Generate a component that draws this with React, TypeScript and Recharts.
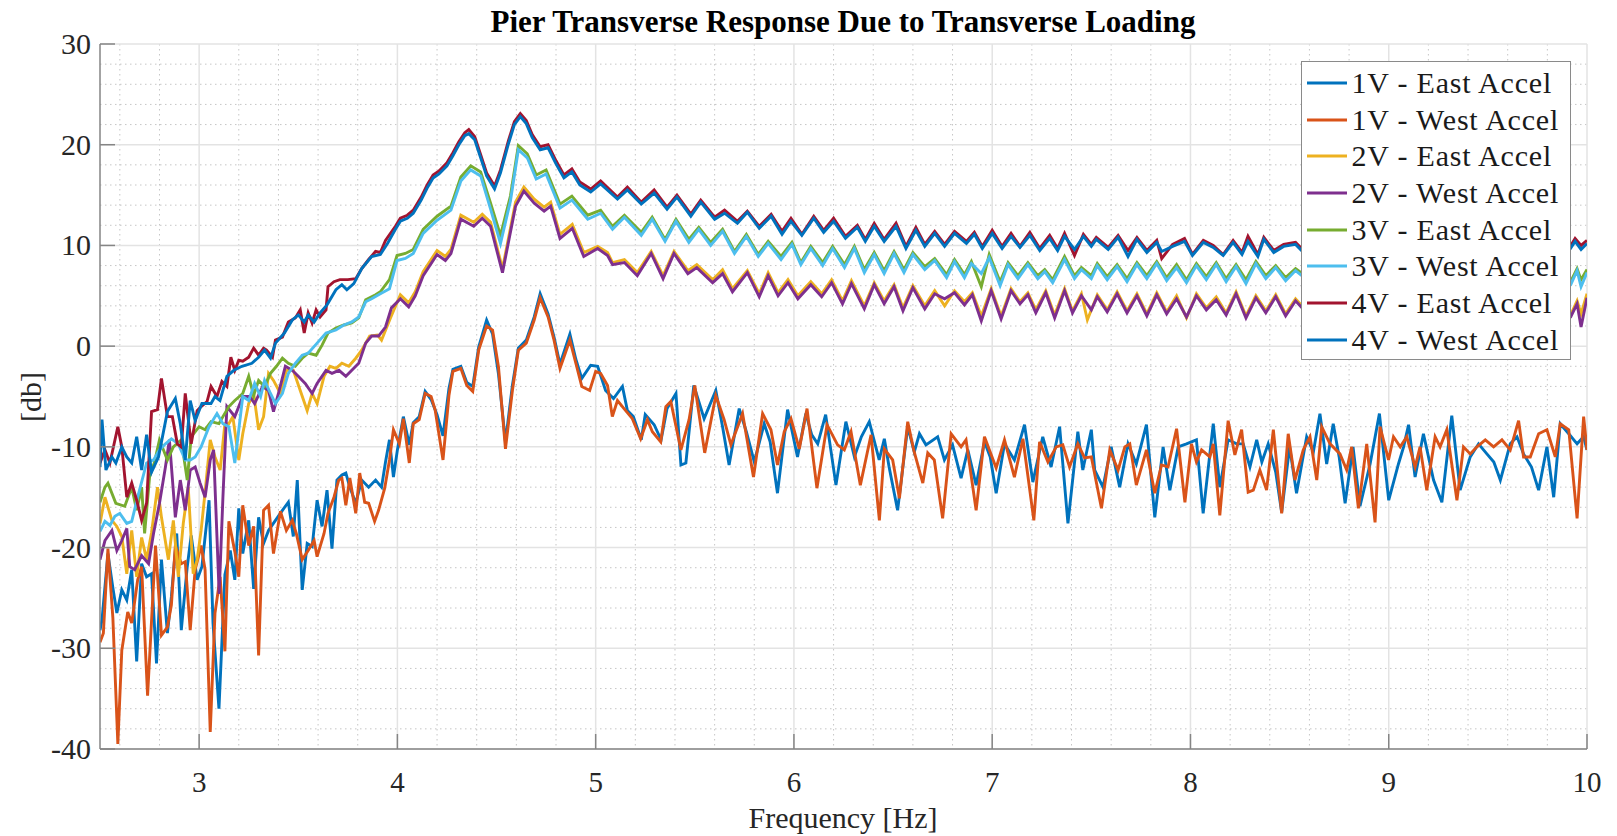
import React from 'react';
import { LineChart, Line, XAxis, YAxis, CartesianGrid, Legend } from 'recharts';

// [frequency Hz, level db] pairs
const east1V = [
  [2.5,-28.2],[2.51,-27.2],[2.54,-20.6],[2.565,-24.0],[2.585,-26.5],[2.61,-24.2],[2.635,-25.2],[2.66,-22.2],[2.685,-31.3],[2.71,-21.6],
  [2.735,-22.9],[2.76,-22.6],[2.785,-31.5],[2.81,-21.2],[2.84,-28.5],[2.86,-24.9],[2.887,-18.6],[2.91,-28.2],[2.94,-21.9],[2.96,-18.8],
  [2.99,-23.2],[3.014,-21.9],[3.05,-15.3],[3.07,-27.5],[3.1,-36.0],[3.13,-22.7],[3.157,-20.3],[3.18,-23.2],[3.2,-16.1],[3.22,-20.6],
  [3.25,-17.3],[3.275,-24.1],[3.3,-17.0],[3.325,-19.6],[3.35,-18.3],[3.385,-17.3],[3.42,-16.3],[3.45,-15.5],[3.475,-18.9],[3.495,-13.3],
  [3.52,-24.2],[3.545,-19.6],[3.57,-19.9],[3.595,-15.3],[3.62,-17.9],[3.645,-14.3],[3.67,-20.1],[3.695,-13.3],[3.72,-12.8],[3.74,-12.6],
  [3.76,-14.0],[3.79,-15.6],[3.82,-13.3],[3.855,-14.0],[3.89,-13.3],[3.92,-14.0],[3.94,-11.5],[3.96,-9.3],[3.98,-13.0],[4.0,-10.3],
  [4.03,-7.0],[4.06,-9.8],[4.08,-7.6],[4.11,-7.0],[4.14,-4.5],[4.17,-5.3],[4.2,-6.8],[4.23,-8.9],[4.26,-4.2],[4.28,-2.3],
  [4.32,-2.0],[4.35,-3.6],[4.38,-4.0],[4.41,-0.1],[4.45,2.6],[4.48,1.2],[4.51,-2.8],[4.545,-9.5],[4.58,-3.9],[4.61,-0.2],
  [4.65,0.6],[4.69,2.9],[4.72,5.2],[4.76,3.2],[4.79,0.9],[4.82,-1.8],[4.87,1.2],[4.9,-1.3],[4.93,-3.2],[4.975,-1.9],
  [5.01,-2.0],[5.05,-4.4],[5.09,-5.2],[5.135,-4.0],[5.16,-6.4],[5.19,-7.0],[5.23,-9.3],[5.25,-6.8],[5.295,-7.8],[5.33,-9.3],
  [5.36,-6.2],[5.405,-4.7],[5.43,-11.8],[5.455,-11.6],[5.495,-3.9],[5.547,-7.2],[5.606,-4.4],[5.64,-8.0],[5.673,-11.8],[5.724,-6.2],
  [5.76,-8.5],[5.8,-11.5],[5.85,-7.7],[5.88,-9.5],[5.917,-14.6],[5.968,-6.3],[6.018,-11.0],[6.06,-6.7],[6.09,-8.8],[6.12,-9.7],
  [6.16,-6.8],[6.212,-13.8],[6.262,-7.5],[6.305,-11.0],[6.34,-9.0],[6.38,-7.5],[6.43,-11.3],[6.456,-9.2],[6.48,-12.0],[6.523,-16.3],
  [6.574,-8.0],[6.607,-10.5],[6.633,-8.7],[6.666,-9.8],[6.725,-9.0],[6.759,-11.3],[6.8,-9.8],[6.843,-13.1],[6.877,-10.3],[6.919,-13.8],
  [6.961,-9.5],[6.99,-11.0],[7.02,-14.6],[7.062,-9.7],[7.112,-11.3],[7.163,-7.8],[7.205,-13.5],[7.255,-9.0],[7.297,-12.0],[7.34,-8.0],
  [7.382,-17.6],[7.432,-8.5],[7.457,-12.3],[7.5,-8.3],[7.517,-12.3],[7.559,-14.0],[7.6,-10.0],[7.643,-14.0],[7.685,-9.7],[7.727,-11.7],
  [7.778,-7.8],[7.82,-17.0],[7.862,-10.0],[7.896,-14.3],[7.938,-10.0],[7.98,-9.7],[8.03,-9.3],[8.064,-16.6],[8.115,-7.7],[8.148,-14.0],
  [8.19,-9.3],[8.233,-9.7],[8.266,-9.7],[8.3,-12.0],[8.334,-9.3],[8.36,-11.5],[8.392,-9.7],[8.43,-12.5],[8.46,-16.5],[8.5,-10.0],
  [8.535,-14.6],[8.586,-9.0],[8.62,-10.5],[8.653,-6.7],[8.687,-11.7],[8.72,-7.7],[8.75,-11.0],[8.78,-15.6],[8.82,-10.0],[8.855,-15.9],
  [8.906,-11.7],[8.953,-6.7],[9.0,-15.3],[9.049,-11.7],[9.075,-10.0],[9.1,-7.8],[9.133,-13.0],[9.175,-8.7],[9.226,-13.3],[9.268,-15.5],
  [9.318,-6.9],[9.36,-14.3],[9.411,-11.0],[9.453,-9.7],[9.495,-10.7],[9.53,-11.5],[9.563,-13.3],[9.613,-9.7],[9.647,-9.0],[9.68,-10.7],
  [9.72,-12.0],[9.756,-14.3],[9.798,-10.0],[9.832,-15.0],[9.865,-7.7],[9.908,-8.7],[9.95,-9.7],[9.983,-9.0],[10.0,-10.3],
];

const west1V = [
  [2.5,-29.4],[2.517,-28.5],[2.54,-20.1],[2.565,-27.0],[2.59,-39.5],[2.61,-30.2],[2.64,-26.4],[2.66,-27.5],[2.69,-23.2],[2.71,-21.9],
  [2.74,-34.7],[2.78,-19.8],[2.81,-28.7],[2.84,-27.9],[2.86,-25.7],[2.88,-19.8],[2.91,-21.6],[2.93,-21.4],[2.955,-28.2],[2.98,-22.2],
  [3.01,-19.8],[3.03,-22.2],[3.056,-38.3],[3.08,-26.5],[3.106,-22.9],[3.13,-30.3],[3.15,-17.4],[3.18,-20.4],[3.2,-22.9],[3.22,-15.8],
  [3.25,-19.8],[3.275,-17.9],[3.3,-30.7],[3.325,-16.3],[3.35,-15.8],[3.375,-20.6],[3.41,-16.4],[3.44,-18.3],[3.47,-17.3],[3.49,-18.6],
  [3.52,-21.2],[3.55,-20.3],[3.58,-19.3],[3.595,-20.9],[3.63,-18.6],[3.65,-16.6],[3.68,-15.0],[3.704,-13.3],[3.72,-13.1],[3.74,-15.8],
  [3.76,-13.1],[3.79,-16.6],[3.81,-12.6],[3.835,-15.5],[3.855,-15.6],[3.885,-17.4],[3.905,-16.3],[3.936,-14.1],[3.96,-11.3],[3.98,-8.3],
  [4.01,-9.7],[4.03,-7.2],[4.06,-11.6],[4.08,-7.7],[4.11,-7.3],[4.14,-4.7],[4.17,-5.0],[4.19,-6.3],[4.23,-11.3],[4.26,-4.9],
  [4.28,-2.5],[4.32,-2.2],[4.35,-3.9],[4.38,-4.5],[4.41,-0.4],[4.45,2.0],[4.48,1.6],[4.51,-2.1],[4.545,-10.2],[4.58,-4.4],
  [4.61,-0.4],[4.65,0.3],[4.69,2.6],[4.72,4.8],[4.76,2.9],[4.79,0.6],[4.82,-2.2],[4.87,0.6],[4.9,-1.7],[4.93,-4.0],
  [4.97,-4.4],[5.0,-2.5],[5.025,-2.7],[5.06,-3.9],[5.084,-7.0],[5.11,-5.4],[5.143,-6.2],[5.185,-7.2],[5.227,-9.2],[5.261,-7.3],
  [5.286,-8.5],[5.328,-9.5],[5.354,-6.0],[5.379,-5.5],[5.43,-10.3],[5.471,-7.3],[5.5,-3.9],[5.55,-10.6],[5.606,-4.9],[5.648,-7.3],
  [5.682,-9.8],[5.741,-6.7],[5.796,-13.0],[5.842,-6.7],[5.884,-8.3],[5.917,-11.8],[5.951,-8.5],[5.985,-7.2],[6.027,-10.2],[6.066,-6.2],
  [6.116,-14.1],[6.167,-7.8],[6.22,-9.8],[6.254,-10.3],[6.288,-8.5],[6.335,-13.8],[6.389,-8.8],[6.431,-17.3],[6.456,-10.2],[6.498,-11.3],
  [6.532,-15.1],[6.574,-7.5],[6.604,-10.3],[6.65,-13.6],[6.675,-10.6],[6.708,-11.3],[6.75,-17.1],[6.793,-8.7],[6.843,-10.0],[6.868,-9.3],
  [6.919,-16.3],[6.961,-9.0],[7.02,-12.1],[7.062,-9.3],[7.112,-13.0],[7.155,-9.2],[7.21,-17.3],[7.239,-9.5],[7.281,-11.5],[7.323,-10.0],
  [7.356,-9.8],[7.39,-12.0],[7.432,-9.7],[7.466,-11.1],[7.5,-11.0],[7.551,-16.1],[7.593,-10.3],[7.635,-12.3],[7.669,-10.0],[7.694,-9.7],
  [7.727,-13.8],[7.778,-10.3],[7.82,-14.6],[7.854,-11.8],[7.887,-12.0],[7.93,-8.2],[7.972,-15.5],[8.005,-9.7],[8.03,-11.5],[8.056,-10.3],
  [8.098,-11.0],[8.115,-9.7],[8.148,-16.8],[8.19,-7.4],[8.224,-10.8],[8.258,-8.3],[8.291,-14.5],[8.317,-14.3],[8.35,-12.3],[8.384,-14.3],
  [8.418,-8.3],[8.46,-16.6],[8.493,-8.7],[8.527,-13.3],[8.569,-10.3],[8.603,-9.0],[8.637,-13.3],[8.662,-8.0],[8.704,-9.7],[8.754,-10.7],
  [8.788,-12.3],[8.813,-10.0],[8.847,-16.1],[8.889,-9.7],[8.931,-17.5],[8.956,-8.0],[8.999,-11.3],[9.024,-9.0],[9.058,-10.0],[9.091,-9.0],
  [9.133,-12.0],[9.158,-10.0],[9.192,-14.3],[9.234,-9.0],[9.259,-10.0],[9.293,-8.3],[9.344,-15.3],[9.377,-10.0],[9.411,-10.7],[9.445,-10.0],
  [9.487,-9.3],[9.529,-10.0],[9.571,-9.3],[9.613,-10.3],[9.655,-7.4],[9.68,-11.0],[9.714,-11.0],[9.756,-8.7],[9.798,-8.3],[9.84,-11.0],
  [9.865,-7.7],[9.908,-8.3],[9.95,-17.1],[9.983,-7.0],[10.0,-10.3],
];

const east2V = [
  [2.5,-17.6],[2.525,-15.0],[2.56,-17.3],[2.585,-17.9],[2.61,-18.9],[2.635,-22.6],[2.66,-18.3],[2.685,-22.9],[2.71,-19.0],[2.735,-21.2],
  [2.76,-18.5],[2.79,-14.0],[2.81,-17.0],[2.845,-21.2],[2.87,-17.3],[2.895,-22.9],[2.92,-17.6],[2.945,-14.0],[2.97,-22.6],[2.99,-21.2],
  [3.01,-18.3],[3.03,-14.5],[3.056,-9.3],[3.08,-11.0],[3.106,-12.3],[3.13,-7.7],[3.15,-7.7],[3.17,-7.0],[3.2,-11.3],[3.22,-8.7],
  [3.25,-5.7],[3.275,-4.7],[3.3,-8.3],[3.325,-7.0],[3.35,-2.7],[3.375,-3.4],[3.41,-4.7],[3.44,-2.4],[3.475,-2.4],[3.51,-4.4],
  [3.545,-6.4],[3.57,-4.7],[3.595,-5.7],[3.63,-3.0],[3.66,-2.0],[3.69,-2.2],[3.72,-1.7],[3.755,-2.0],[3.79,-1.2],[3.82,-0.4],
  [3.86,1.0],[3.9,1.1],[3.92,0.6],[3.965,2.8],[4.015,5.1],[4.057,4.3],[4.09,5.4],[4.13,7.4],[4.2,9.5],[4.242,8.9],
  [4.27,9.6],[4.32,13.0],[4.385,12.3],[4.428,13.1],[4.47,12.3],[4.53,7.7],[4.596,14.3],[4.638,15.8],[4.69,14.6],[4.74,13.8],
  [4.773,14.3],[4.82,11.1],[4.882,12.1],[4.94,9.3],[5.01,9.9],[5.06,9.3],[5.085,8.3],[5.145,8.6],[5.21,7.3],[5.28,9.4],
  [5.34,7.0],[5.395,9.4],[5.465,7.5],[5.51,8.1],[5.59,6.6],[5.64,7.6],[5.69,5.7],[5.765,7.5],[5.825,5.2],[5.87,7.3],
  [5.92,5.3],[5.97,6.6],[6.02,5.0],[6.085,6.4],[6.14,5.2],[6.19,6.6],[6.245,4.5],[6.29,6.5],[6.355,4.0],[6.405,6.3],
  [6.455,4.5],[6.505,6.1],[6.55,3.8],[6.6,6.0],[6.66,4.0],[6.71,5.5],[6.76,4.0],[6.81,5.5],[6.86,4.4],[6.9,5.3],
  [6.945,3.0],[6.995,5.7],[7.045,3.0],[7.095,5.7],[7.14,4.4],[7.18,5.3],[7.22,3.6],[7.27,5.5],[7.315,3.1],[7.365,5.7],
  [7.405,3.5],[7.45,5.2],[7.48,2.6],[7.53,5.1],[7.58,3.6],[7.63,5.4],[7.68,3.5],[7.73,5.2],[7.78,3.2],[7.83,5.3],
  [7.88,3.4],[7.93,5.0],[7.98,2.8],[8.03,5.2],[8.08,3.8],[8.13,4.9],[8.18,3.3],[8.23,5.4],[8.28,3.0],[8.33,5.0],
  [8.38,3.5],[8.43,5.1],[8.48,3.2],[8.53,4.7],[8.6,3.2],[8.66,4.8],[8.72,3.1],[8.78,4.9],[8.84,3.3],[8.9,4.7],
  [8.96,3.0],[9.02,4.8],[9.08,3.2],[9.14,4.6],[9.2,3.1],[9.26,4.7],[9.32,3.0],[9.38,4.5],[9.44,2.9],[9.5,4.6],
  [9.56,3.1],[9.62,4.4],[9.68,2.8],[9.74,4.5],[9.8,3.0],[9.86,4.4],[9.92,3.2],[9.95,4.5],[9.97,3.2],[10.0,5.2],
];

const west2V = [
  [2.5,-21.2],[2.525,-19.3],[2.56,-18.3],[2.585,-20.3],[2.61,-19.3],[2.635,-18.1],[2.65,-21.9],[2.675,-22.2],[2.71,-20.8],[2.745,-21.6],
  [2.77,-18.6],[2.8,-15.6],[2.83,-12.0],[2.85,-9.3],[2.88,-17.0],[2.905,-13.3],[2.93,-16.3],[2.955,-12.3],[2.98,-12.0],[3.005,-13.6],
  [3.03,-15.0],[3.056,-11.3],[3.073,-10.3],[3.101,-24.6],[3.12,-15.0],[3.14,-6.0],[3.18,-7.0],[3.22,-5.0],[3.255,-5.0],[3.28,-5.7],
  [3.32,-4.0],[3.35,-4.4],[3.375,-6.5],[3.4,-4.7],[3.435,-2.0],[3.47,-2.4],[3.5,-3.0],[3.535,-3.7],[3.57,-4.7],[3.595,-3.7],
  [3.64,-2.4],[3.67,-2.7],[3.705,-2.4],[3.74,-3.0],[3.77,-2.4],[3.805,-1.7],[3.84,0.3],[3.87,1.0],[3.905,1.0],[3.94,1.9],
  [3.97,3.8],[4.015,4.7],[4.057,3.9],[4.09,5.0],[4.13,7.0],[4.2,9.1],[4.242,8.5],[4.27,9.2],[4.32,12.6],[4.385,11.9],
  [4.428,12.7],[4.47,11.9],[4.53,7.3],[4.596,13.9],[4.638,15.4],[4.69,14.2],[4.74,13.4],[4.773,13.9],[4.82,10.7],[4.882,11.7],
  [4.94,8.9],[5.01,9.7],[5.06,9.0],[5.085,8.1],[5.145,8.3],[5.21,7.0],[5.28,9.2],[5.34,6.7],[5.395,9.2],[5.465,7.2],
  [5.51,7.8],[5.59,6.3],[5.64,7.2],[5.69,5.4],[5.765,7.3],[5.825,4.9],[5.87,7.0],[5.92,5.0],[5.97,6.3],[6.02,4.7],
  [6.085,6.1],[6.14,4.9],[6.19,6.3],[6.245,4.2],[6.29,6.2],[6.355,3.7],[6.405,6.1],[6.455,4.2],[6.505,5.9],[6.55,3.5],
  [6.6,5.8],[6.66,3.7],[6.71,5.2],[6.76,4.7],[6.81,5.3],[6.86,4.1],[6.9,5.1],[6.945,2.5],[6.995,5.5],[7.045,2.7],
  [7.095,5.5],[7.14,4.2],[7.18,5.1],[7.22,3.3],[7.27,5.3],[7.315,2.8],[7.365,5.5],[7.405,3.3],[7.45,5.0],[7.5,3.6],
  [7.53,4.9],[7.58,3.4],[7.63,5.2],[7.68,3.3],[7.73,5.0],[7.78,3.0],[7.83,5.1],[7.88,3.2],[7.93,4.7],[7.98,2.9],
  [8.03,5.0],[8.08,3.6],[8.13,4.6],[8.18,3.1],[8.23,5.2],[8.28,2.8],[8.33,4.8],[8.38,3.3],[8.43,4.9],[8.48,3.0],
  [8.53,4.5],[8.6,3.0],[8.66,4.6],[8.72,2.9],[8.78,4.7],[8.84,3.1],[8.9,4.5],[8.96,2.8],[9.02,4.6],[9.08,3.0],
  [9.14,4.4],[9.2,2.9],[9.26,4.5],[9.32,2.8],[9.38,4.3],[9.44,2.7],[9.5,4.4],[9.56,2.9],[9.62,4.2],[9.68,2.6],
  [9.74,4.3],[9.8,2.8],[9.86,4.2],[9.92,3.0],[9.95,4.2],[9.97,1.9],[10.0,4.8],
];

const east3V = [
  [2.5,-15.5],[2.525,-14.0],[2.54,-13.6],[2.58,-15.6],[2.625,-15.9],[2.66,-14.0],[2.685,-16.3],[2.71,-14.0],[2.725,-18.6],[2.75,-13.0],
  [2.775,-11.5],[2.8,-9.3],[2.84,-11.3],[2.87,-10.0],[2.91,-9.3],[2.94,-13.3],[2.96,-9.0],[3.0,-8.0],[3.03,-8.3],[3.06,-7.5],
  [3.1,-7.7],[3.12,-7.0],[3.15,-6.0],[3.18,-5.4],[3.22,-4.7],[3.25,-3.0],[3.275,-4.9],[3.3,-3.4],[3.33,-4.0],[3.36,-2.7],
  [3.39,-2.0],[3.42,-1.2],[3.45,-1.7],[3.485,-2.0],[3.52,-1.2],[3.55,-0.7],[3.59,-0.9],[3.62,0.1],[3.65,1.3],[3.69,1.8],
  [3.73,2.1],[3.77,2.3],[3.805,2.8],[3.84,4.6],[3.89,5.1],[3.914,5.4],[3.96,6.6],[3.998,9.0],[4.04,9.2],[4.08,9.6],
  [4.13,11.6],[4.2,12.9],[4.27,13.9],[4.32,16.8],[4.37,17.9],[4.42,17.3],[4.47,14.2],[4.52,11.0],[4.57,14.9],[4.61,19.9],
  [4.655,19.1],[4.7,17.0],[4.75,17.5],[4.82,14.1],[4.88,14.9],[4.96,13.0],[5.025,13.5],[5.085,11.9],[5.145,13.0],[5.23,11.3],
  [5.285,12.8],[5.35,10.6],[5.405,12.6],[5.47,10.6],[5.52,11.8],[5.58,10.3],[5.64,11.6],[5.7,9.4],[5.76,11.1],[5.82,9.1],
  [5.87,10.4],[5.935,8.9],[5.99,10.3],[6.035,8.3],[6.085,9.9],[6.145,8.3],[6.195,9.9],[6.255,8.1],[6.305,9.9],[6.355,7.6],
  [6.405,9.3],[6.455,7.5],[6.505,9.4],[6.555,7.6],[6.6,9.3],[6.66,7.9],[6.71,8.7],[6.77,7.1],[6.81,8.6],[6.86,7.1],
  [6.895,8.4],[6.945,5.9],[6.985,9.1],[7.04,6.4],[7.08,8.3],[7.13,7.0],[7.18,8.3],[7.23,7.0],[7.265,7.6],[7.305,6.6],
  [7.365,8.9],[7.415,7.0],[7.45,7.8],[7.5,7.0],[7.53,8.2],[7.58,6.9],[7.63,8.1],[7.68,6.7],[7.73,8.3],[7.78,7.0],
  [7.83,8.4],[7.88,6.8],[7.93,8.1],[7.98,6.6],[8.03,8.2],[8.08,6.9],[8.13,8.3],[8.18,6.7],[8.23,8.1],[8.28,6.6],
  [8.33,8.4],[8.38,7.0],[8.43,8.0],[8.48,6.8],[8.53,7.7],[8.6,6.7],[8.66,8.0],[8.72,6.6],[8.78,7.9],[8.84,6.5],
  [8.9,7.8],[8.96,6.4],[9.02,7.9],[9.08,6.5],[9.14,7.7],[9.2,6.3],[9.26,7.8],[9.32,6.4],[9.38,7.6],[9.44,6.2],
  [9.5,7.7],[9.56,6.3],[9.62,7.5],[9.68,6.1],[9.74,7.6],[9.8,6.2],[9.86,7.5],[9.92,6.5],[9.95,7.7],[9.97,6.6],[10.0,7.6],
];

const west3V = [
  [2.5,-18.4],[2.525,-17.4],[2.55,-17.8],[2.575,-16.9],[2.6,-16.6],[2.635,-17.6],[2.66,-17.4],[2.69,-15.0],[2.735,-11.6],[2.77,-11.3],
  [2.8,-10.3],[2.83,-9.7],[2.86,-9.2],[2.895,-9.7],[2.93,-11.3],[2.955,-11.3],[2.98,-11.0],[3.01,-10.0],[3.05,-8.0],[3.09,-6.7],
  [3.12,-7.7],[3.15,-8.0],[3.18,-11.6],[3.2,-8.3],[3.22,-5.0],[3.25,-5.4],[3.28,-3.7],[3.31,-5.0],[3.33,-3.4],[3.36,-4.7],
  [3.385,-5.7],[3.42,-4.7],[3.45,-2.7],[3.485,-1.7],[3.52,-0.9],[3.55,-0.7],[3.595,0.3],[3.64,1.3],[3.69,1.6],[3.73,2.1],
  [3.77,2.4],[3.805,2.9],[3.84,4.4],[3.87,4.7],[3.914,5.2],[3.96,5.7],[3.998,8.5],[4.04,8.7],[4.08,9.2],[4.13,11.2],
  [4.2,12.5],[4.27,13.5],[4.32,16.4],[4.37,17.5],[4.42,16.9],[4.47,13.6],[4.52,10.2],[4.57,14.4],[4.61,19.5],[4.655,18.7],
  [4.7,16.6],[4.75,17.1],[4.82,13.7],[4.88,14.5],[4.96,12.6],[5.025,13.2],[5.085,11.6],[5.145,12.8],[5.23,11.0],[5.285,12.6],
  [5.35,10.4],[5.405,12.4],[5.47,10.3],[5.52,11.6],[5.58,10.0],[5.64,11.4],[5.7,9.2],[5.76,10.9],[5.82,8.9],[5.87,10.2],
  [5.935,8.6],[5.99,10.1],[6.035,8.1],[6.085,9.7],[6.145,8.0],[6.195,9.7],[6.255,7.8],[6.305,9.7],[6.355,7.3],[6.405,9.1],
  [6.455,7.2],[6.505,9.2],[6.555,7.3],[6.6,9.1],[6.66,7.6],[6.71,8.5],[6.77,6.8],[6.81,8.4],[6.86,6.8],[6.895,8.2],
  [6.945,7.2],[6.985,8.8],[7.04,6.0],[7.08,8.1],[7.13,6.7],[7.18,8.1],[7.23,6.7],[7.265,7.4],[7.305,6.3],[7.365,8.6],
  [7.415,6.7],[7.45,7.6],[7.5,6.7],[7.53,8.0],[7.58,6.6],[7.63,7.9],[7.68,6.4],[7.73,8.1],[7.78,6.7],[7.83,8.2],
  [7.88,6.5],[7.93,7.8],[7.98,6.3],[8.03,8.0],[8.08,6.6],[8.13,8.1],[8.18,6.4],[8.23,7.9],[8.28,6.2],[8.33,8.2],
  [8.38,6.7],[8.43,7.8],[8.48,6.5],[8.53,7.5],[8.6,6.4],[8.66,7.8],[8.72,6.3],[8.78,7.7],[8.84,6.2],[8.9,7.6],
  [8.96,6.1],[9.02,7.7],[9.08,6.2],[9.14,7.5],[9.2,6.0],[9.26,7.6],[9.32,6.1],[9.38,7.4],[9.44,5.9],[9.5,7.5],
  [9.56,6.0],[9.62,7.3],[9.68,5.8],[9.74,7.4],[9.8,5.9],[9.86,7.3],[9.92,6.2],[9.95,7.5],[9.97,5.9],[10.0,7.3],
];

const east4V = [
  [2.5,-11.6],[2.525,-10.3],[2.55,-11.6],[2.59,-8.0],[2.61,-10.0],[2.635,-15.0],[2.66,-13.6],[2.685,-15.3],[2.71,-17.3],[2.735,-15.6],
  [2.76,-6.5],[2.79,-6.3],[2.81,-3.2],[2.84,-7.0],[2.865,-7.0],[2.89,-9.7],[2.91,-10.0],[2.93,-4.7],[2.96,-9.7],[2.99,-6.4],
  [3.01,-6.0],[3.04,-5.5],[3.06,-4.0],[3.09,-5.0],[3.115,-3.5],[3.14,-4.0],[3.16,-1.1],[3.18,-2.4],[3.2,-1.4],[3.22,-1.5],
  [3.25,-1.1],[3.275,-0.2],[3.3,-0.9],[3.325,-0.2],[3.34,-0.4],[3.37,-1.1],[3.385,0.6],[3.42,0.9],[3.45,2.4],[3.485,2.8],
  [3.51,3.6],[3.53,1.3],[3.55,3.3],[3.57,2.3],[3.59,3.6],[3.61,2.9],[3.64,3.6],[3.65,5.9],[3.68,6.4],[3.71,6.6],
  [3.75,6.6],[3.79,6.7],[3.82,7.7],[3.855,8.6],[3.89,9.4],[3.914,9.3],[3.94,10.5],[3.99,11.9],[4.015,12.7],[4.05,13.0],
  [4.08,13.5],[4.12,14.8],[4.15,16.0],[4.18,17.0],[4.21,17.4],[4.25,18.2],[4.28,19.2],[4.31,20.3],[4.34,21.2],[4.36,21.5],
  [4.39,20.8],[4.42,19.0],[4.45,17.2],[4.49,15.9],[4.52,17.5],[4.56,20.4],[4.59,22.3],[4.62,23.1],[4.65,22.4],[4.68,21.0],
  [4.72,19.8],[4.76,20.0],[4.8,18.4],[4.84,17.0],[4.88,17.6],[4.92,16.3],[4.975,15.6],[5.025,16.4],[5.11,14.8],[5.16,15.8],
  [5.23,14.3],[5.295,15.5],[5.36,13.8],[5.41,15.0],[5.48,13.1],[5.53,14.5],[5.6,12.8],[5.65,13.5],[5.715,12.4],[5.765,13.4],
  [5.825,11.9],[5.885,13.1],[5.94,11.4],[5.985,12.7],[6.04,11.1],[6.1,12.9],[6.15,11.5],[6.2,12.7],[6.26,10.9],[6.32,12.0],
  [6.36,10.6],[6.405,12.2],[6.455,10.6],[6.515,12.2],[6.565,9.9],[6.615,11.8],[6.66,10.1],[6.71,11.4],[6.76,10.1],[6.81,11.4],
  [6.87,10.4],[6.91,11.3],[6.95,9.9],[7.0,11.5],[7.05,9.9],[7.095,11.2],[7.14,9.9],[7.19,11.3],[7.24,9.7],[7.29,11.0],
  [7.33,9.7],[7.365,11.2],[7.415,9.0],[7.46,11.1],[7.5,10.1],[7.525,10.8],[7.585,9.8],[7.635,11.0],[7.685,9.5],[7.73,10.8],
  [7.78,9.5],[7.83,10.5],[7.855,8.7],[7.91,10.1],[7.97,10.7],[8.01,9.1],[8.065,10.5],[8.115,10.0],[8.165,9.1],[8.215,10.5],
  [8.26,9.3],[8.29,10.9],[8.34,9.1],[8.37,10.8],[8.42,9.5],[8.47,10.1],[8.53,10.3],[8.58,9.3],[8.64,10.5],[8.7,9.4],
  [8.76,10.4],[8.82,9.2],[8.88,10.3],[8.94,9.3],[9.0,10.4],[9.06,9.2],[9.12,10.2],[9.18,9.3],[9.24,10.3],[9.3,9.1],
  [9.36,10.2],[9.42,9.2],[9.48,10.1],[9.54,9.0],[9.6,10.2],[9.66,9.1],[9.72,10.1],[9.78,9.2],[9.84,10.2],[9.9,9.4],
  [9.94,10.7],[9.97,10.0],[10.0,10.5],
];

const west4V = [
  [2.5,-12.0],[2.51,-7.3],[2.53,-12.3],[2.56,-11.0],[2.58,-11.6],[2.61,-10.0],[2.635,-11.0],[2.66,-11.6],[2.685,-9.0],[2.71,-12.3],
  [2.735,-8.8],[2.76,-12.5],[2.795,-11.0],[2.84,-6.5],[2.88,-5.2],[2.905,-7.7],[2.93,-11.3],[2.955,-5.4],[2.98,-7.4],[3.014,-5.7],
  [3.06,-5.7],[3.08,-5.0],[3.105,-5.4],[3.14,-3.0],[3.175,-2.4],[3.216,-2.0],[3.266,-1.7],[3.3,-1.1],[3.33,-0.4],[3.36,-1.2],
  [3.385,0.3],[3.43,1.3],[3.47,2.6],[3.5,3.1],[3.53,2.4],[3.55,3.1],[3.58,2.4],[3.61,3.3],[3.645,4.1],[3.69,5.6],
  [3.72,6.1],[3.745,5.6],[3.78,6.2],[3.82,7.7],[3.87,8.9],[3.914,9.1],[3.95,10.2],[3.99,11.6],[4.015,12.4],[4.05,12.7],
  [4.08,13.2],[4.12,14.5],[4.15,15.7],[4.18,16.7],[4.21,17.1],[4.25,17.9],[4.28,18.9],[4.31,20.0],[4.34,20.9],[4.36,21.1],
  [4.39,20.5],[4.42,18.7],[4.45,16.9],[4.49,15.6],[4.52,17.2],[4.56,20.1],[4.59,22.0],[4.62,22.8],[4.65,22.1],[4.68,20.7],
  [4.72,19.5],[4.76,19.7],[4.8,18.1],[4.84,16.7],[4.88,17.3],[4.92,16.0],[4.975,15.3],[5.025,16.1],[5.11,14.6],[5.16,15.5],
  [5.23,14.1],[5.295,15.2],[5.36,13.6],[5.41,14.8],[5.48,12.9],[5.53,14.3],[5.6,12.6],[5.65,13.2],[5.715,12.2],[5.765,13.3],
  [5.825,11.7],[5.885,12.9],[5.94,11.1],[5.985,12.4],[6.04,11.0],[6.1,12.7],[6.15,11.3],[6.2,12.4],[6.26,10.7],[6.32,11.8],
  [6.36,10.4],[6.405,11.9],[6.455,10.4],[6.515,11.9],[6.565,9.7],[6.615,11.5],[6.66,9.9],[6.71,11.2],[6.76,9.9],[6.81,11.2],
  [6.87,10.2],[6.91,11.1],[6.95,9.7],[7.0,11.2],[7.05,9.7],[7.095,10.9],[7.14,9.8],[7.19,11.0],[7.24,9.5],[7.29,10.7],
  [7.33,9.5],[7.365,10.9],[7.415,9.6],[7.46,10.9],[7.5,9.9],[7.525,10.6],[7.585,9.6],[7.635,10.8],[7.685,8.9],[7.73,10.6],
  [7.78,9.3],[7.83,10.3],[7.855,9.4],[7.91,9.9],[7.97,10.4],[8.01,9.0],[8.065,10.3],[8.115,9.8],[8.165,9.0],[8.215,10.3],
  [8.26,9.1],[8.29,10.4],[8.34,8.9],[8.37,10.6],[8.42,9.3],[8.47,9.9],[8.53,10.1],[8.58,9.1],[8.64,10.3],[8.7,9.2],
  [8.76,10.2],[8.82,9.0],[8.88,10.1],[8.94,9.1],[9.0,10.2],[9.06,9.0],[9.12,10.0],[9.18,9.1],[9.24,10.1],[9.3,8.9],
  [9.36,10.0],[9.42,9.0],[9.48,9.9],[9.54,8.8],[9.6,10.0],[9.66,8.9],[9.72,9.9],[9.78,9.0],[9.84,10.0],[9.9,9.2],
  [9.94,10.4],[9.97,9.6],[10.0,10.2],
];

const seriesNames = [
  '1V - East Accel', '1V - West Accel', '2V - East Accel', '2V - West Accel',
  '3V - East Accel', '3V - West Accel', '4V - East Accel', '4V - West Accel',
];
const seriesColors = ['#0072BD', '#D95319', '#EDB120', '#7E2F8E', '#77AC30', '#4DBEEE', '#A2142F', '#0072BD'];

const freqTicks = [3, 4, 5, 6, 7, 8, 9, 10];
const dbTicks = [-40, -30, -20, -10, 0, 10, 20, 30];
const minorFreq = [2.6, 2.8, 3.2, 3.4, 3.6, 3.8, 4.2, 4.4, 4.6, 4.8, 5.2, 5.4, 5.6, 5.8, 6.2, 6.4, 6.6, 6.8,
  7.2, 7.4, 7.6, 7.8, 8.2, 8.4, 8.6, 8.8, 9.2, 9.4, 9.6, 9.8];
const minorDb = [-38, -36, -34, -32, -28, -26, -24, -22, -18, -16, -14, -12, -8, -6, -4, -2,
  2, 4, 6, 8, 12, 14, 16, 18, 22, 24, 26, 28];

const series = [east1V, west1V, east2V, west2V, east3V, west3V, east4V, west4V].map((pts, i) => ({
  name: seriesNames[i],
  color: seriesColors[i],
  data: pts.map(([f, v]) => ({ f, v })),
}));

const FONT = '"Liberation Serif", "Times New Roman", Times, serif';
const AXIS_COLOR = '#858585';
const INK = '#262626';
const TICK_LEN = 15;

// matlab style ticks point into the plot
function BottomTick(props: any) {
  const { x, y, payload } = props;
  return (
    <g>
      <line x1={x} y1={y} x2={x} y2={y - TICK_LEN} stroke={AXIS_COLOR} strokeWidth={1.5} />
      <text x={x} y={y + 43} textAnchor="middle" fontFamily={FONT} fontSize={29} fill={INK}>{payload.value}</text>
    </g>
  );
}

function TopTick(props: any) {
  const { x, y } = props;
  return <line x1={x} y1={y} x2={x} y2={y + TICK_LEN} stroke={AXIS_COLOR} strokeWidth={1.5} />;
}

function LeftTick(props: any) {
  const { x, y, payload } = props;
  return (
    <g>
      <line x1={x} y1={y} x2={x + TICK_LEN} y2={y} stroke={AXIS_COLOR} strokeWidth={1.5} />
      <text x={x - 9} y={y + 10} textAnchor="end" fontFamily={FONT} fontSize={30} fill={INK}>{payload.value}</text>
    </g>
  );
}

function RightTick(props: any) {
  const { x, y } = props;
  return <line x1={x} y1={y} x2={x - TICK_LEN} y2={y} stroke={AXIS_COLOR} strokeWidth={1.5} />;
}

function LegendBox(props: any) {
  const items = props.payload || [];
  return (
    <div style={{
      width: 270, height: 299, boxSizing: 'border-box', border: '1.5px solid #8a8a8a',
      background: '#fff', paddingTop: 2.5,
    }}>
      {items.map((it: any) => (
        <div key={it.value} style={{ display: 'flex', alignItems: 'center', height: 36.7 }}>
          <svg width={40} height={6} style={{ marginLeft: 4.5, marginRight: 5, flex: 'none' }}>
            <line x1={0} y1={3} x2={40} y2={3} stroke={it.color} strokeWidth={3} />
          </svg>
          <span style={{
            fontFamily: FONT, fontSize: 30, lineHeight: 1, color: '#1a1a1a', whiteSpace: 'nowrap', letterSpacing: 0.8,
          }}>
            {it.value}
          </span>
        </div>
      ))}
    </div>
  );
}

export default function App() {
  const axisLine = { stroke: AXIS_COLOR, strokeWidth: 1.5 };
  return (
    <div style={{ position: 'absolute', left: 0, top: 0, width: 1617, height: 836, background: '#fff' }}>
      <LineChart width={1617} height={836} margin={{ top: 44, right: 30, bottom: 0, left: 0 }}>
        <CartesianGrid verticalValues={minorFreq} horizontalValues={minorDb} stroke="#c6c6c6" strokeDasharray="1.5 3.5" />
        <CartesianGrid verticalValues={freqTicks} horizontalValues={dbTicks} stroke="#e3e3e3" strokeWidth={1.5} />
        <XAxis dataKey="f" type="number" domain={[2.5, 10]} ticks={freqTicks} interval={0} allowDataOverflow
          height={87} tickSize={0} tickMargin={0} tickLine={false} axisLine={axisLine} tick={<BottomTick />} />
        <XAxis xAxisId="top" orientation="top" dataKey="f" type="number" domain={[2.5, 10]} ticks={freqTicks}
          interval={0} allowDataOverflow height={0} tickSize={0} tickMargin={0} tickLine={false} axisLine={axisLine}
          tick={<TopTick />} />
        <YAxis type="number" domain={[-40, 30]} ticks={dbTicks} interval={0} allowDataOverflow width={100}
          tickSize={0} tickMargin={0} tickLine={false} axisLine={axisLine} tick={<LeftTick />} />
        <YAxis yAxisId="right" orientation="right" type="number" domain={[-40, 30]} ticks={dbTicks} interval={0}
          allowDataOverflow width={0} tickSize={0} tickMargin={0} tickLine={false} axisLine={axisLine}
          tick={<RightTick />} />
        <Legend layout="vertical" align="center" verticalAlign="middle" content={<LegendBox />}
          wrapperStyle={{ left: 1301, top: 61, width: 270, height: 299 }} />
        {series.map((s) => (
          <Line key={s.name} data={s.data} dataKey="v" name={s.name} type="linear" stroke={s.color}
            strokeWidth={2.9} dot={false} activeDot={false} isAnimationActive={false} />
        ))}
        <text x={843} y={32} textAnchor="middle" fontFamily={FONT} fontWeight="bold" fontSize={31} fill="#000">
          Pier Transverse Response Due to Transverse Loading
        </text>
        <text x={843} y={828} textAnchor="middle" fontFamily={FONT} fontSize={30} fill={INK}>Frequency [Hz]</text>
        <text x={41} y={397} textAnchor="middle" fontFamily={FONT} fontSize={30} fill={INK}
          transform="rotate(-90 41 397)">[db]</text>
      </LineChart>
    </div>
  );
}
